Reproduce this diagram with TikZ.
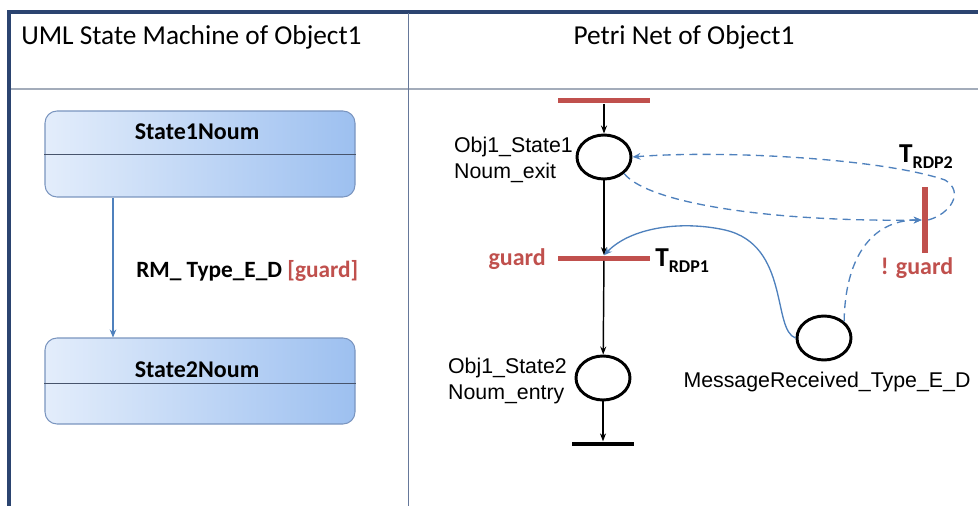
\documentclass[tikz,border=0pt]{standalone}
\usepackage{fontspec}
\setmainfont{Carlito}
\newfontfamily\arialfont{Liberation Sans}
\usetikzlibrary{arrows.meta,positioning,shapes.geometric}
\definecolor{frameblue}{HTML}{2B4470}
\definecolor{headgray}{HTML}{A3ACBA}
\definecolor{colline}{HTML}{66789A}
\definecolor{boxedge}{HTML}{7A95BF}
\definecolor{boxleft}{HTML}{E3EDFB}
\definecolor{boxright}{HTML}{9DC0F0}
\definecolor{umlblue}{HTML}{4F81BD}
\definecolor{pnred}{HTML}{C0504D}
\newcommand{\trdp}[1]{{\fontsize{20.5}{23}\selectfont T}{\fontsize{13.5}{15}\selectfont\raisebox{-4.5pt}{RDP#1}}}

\begin{document}
\begin{tikzpicture}[
  x=0.75pt,y=-0.75pt,
  head/.style={font=\fontsize{20.5}{24}\selectfont,inner sep=0pt},
  statebox/.style={draw=boxedge,line width=0.8pt,rounded corners=9pt,
              left color=boxleft,right color=boxright,
              minimum width=232.5pt,minimum height=64.5pt,inner sep=0pt},
  stitle/.style={font=\fontsize{18}{21}\selectfont\bfseries,inner sep=0pt},
  place/.style={ellipse,draw,line width=2.2pt,minimum width=40.5pt,
              minimum height=33pt,inner sep=0pt},
  plabel/.style={font=\arialfont\fontsize{16}{19.5}\selectfont,align=left,inner sep=0pt},
  tbar/.style={fill=pnred,minimum width=69pt,minimum height=3.75pt,inner sep=0pt},
  glabel/.style={font=\fontsize{18}{21}\selectfont\bfseries,text=pnred,inner sep=0pt},
  tlabel/.style={font=\bfseries,inner sep=0pt},
  uarr/.style={-{Stealth[length=6pt,width=5pt]},umlblue,line width=0.9pt},
  parr/.style={-{Stealth[length=6pt,width=4.5pt]},line width=1.1pt},
  barr/.style={-{Stealth[length=6pt,width=5pt]},umlblue,line width=1pt},
  darr/.style={barr,dash pattern=on 6pt off 4pt}
]
\useasboundingbox (0,0) rectangle (978,506);

\draw[frameblue,line width=2.4pt] (9,506) |- (978,12);
\draw[headgray,line width=1.5pt] (11,89) -- (978,89);
\draw[colline,line width=0.6pt] (408,13) -- (408,506);

\node[head,anchor=west] (umlhead) at (21,37) {UML State Machine of Object1};
\node[head] (pnhead) at (684,37) {Petri Net of Object1};

\node[statebox] (s1) at (200,154) {};
\draw[colline!70!black,line width=0.7pt] (s1.west) -- (s1.east);
\node[stitle] (s1t) at (197,132) {State1Noum};

\node[statebox] (s2) at (200,381) {};
\draw[colline!70!black,line width=0.7pt] ([yshift=-1.5pt]s2.west) -- ([yshift=-1.5pt]s2.east);
\node[stitle] (s2t) at (197,370) {State2Noum};

\draw[uarr] ([xshift=-65.25pt]s1.south) -- ([xshift=-65.25pt]s2.north);
\node[font=\fontsize{17.5}{21}\selectfont\bfseries,anchor=west,inner sep=0pt]
  (rmlbl) at (136,271) {RM\_ Type\_E\_D \textcolor{pnred}{[guard]}};

\node[tbar] (t0) at (604,101) {};
\node[place] (p1) at (604,157) {};
\node[plabel,anchor=east] (p1l) at (573,160) {Obj1\_State1\\Noum\_exit};
\node[tbar] (t1) at (604,258) {};
\node[glabel,anchor=east] (t1g) at (546,259) {guard};
\node[tlabel,anchor=west] (t1l) at (655,261) {\trdp{1}};
\node[place] (p2) at (603,378) {};
\node[plabel,anchor=east] (p2l) at (567,381) {Obj1\_State2\\Noum\_entry};
\node[fill=black,minimum width=46.5pt,minimum height=3.5pt,inner sep=0pt] (t2) at (603,444) {};

\node[place] (pm) at (824,338) {};
\node[plabel] (pml) at (827,382) {MessageReceived\_Type\_E\_D};

\node[fill=pnred,minimum width=4.5pt,minimum height=49.5pt,inner sep=0pt] (t3) at (925,220) {};
\node[tlabel] (t3l) at (926,157) {\trdp{2}};
\node[glabel] (t3g) at (917,268) {! guard};

\draw[parr] (t0) -- (p1);
\draw[parr] (p1) -- (t1);
\draw[parr] (t1) -- (p2);
\draw[parr] (p2) -- (t2);

\draw[barr] (pm.west) .. controls (772,330) and (790,245) .. (725,230)
  .. controls (680,220) and (630,228) .. (t1.north);
\draw[darr] (pm.north east) .. controls (845,260) and (870,220) .. (t3.west);
\draw[darr] (p1.south east) .. controls (650,205) and (780,222) .. (t3.west);
\draw[darr] (t3.east) .. controls (950,214) and (965,192) .. (945,180)
  .. controls (880,158) and (720,150) .. (p1.east);
\end{tikzpicture}
\end{document}
